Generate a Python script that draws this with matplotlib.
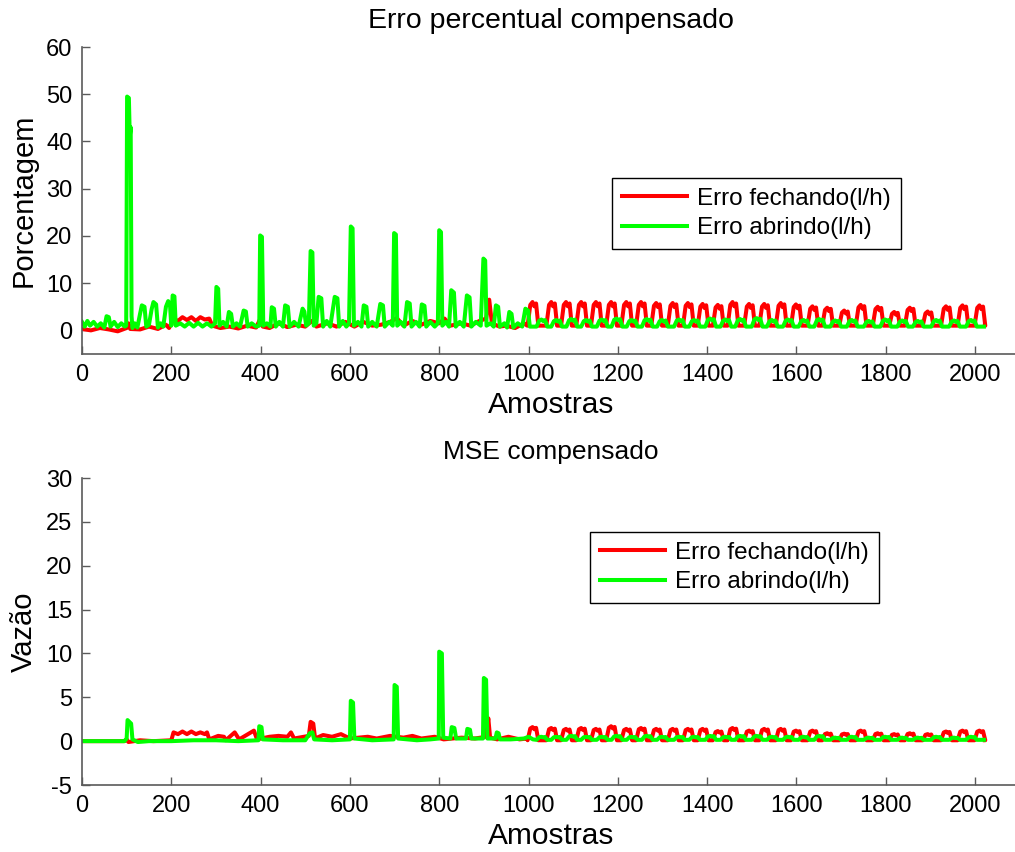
import numpy as np
import matplotlib.pyplot as plt

plt.rcParams['font.family'] = 'Liberation Sans'
plt.rcParams['font.style'] = 'normal'
plt.rcParams['axes.unicode_minus'] = False

RED = '#ff0000'
GREEN = '#00ff00'
AXC = '#5a5a5a'

labels = ['Erro fechando(l/h)', 'Erro abrindo(l/h)']
xticks = list(range(0, 2001, 200))

# ---- irregular part (samples 0..1000), vertices ----
top_red_pts = [
    (0, 0.3), (20, 0.0), (40, 0.5), (60, 0.2), (80, -0.2), (100, 0.5), (104, 1.5), (108, 0.3),
    (130, 0.2), (150, 0.8), (170, 0.3), (188, 1.2), (195, 0.5), (205, 2.5), (215, 2.0), (225, 2.8),
    (235, 2.2), (245, 2.8), (255, 2.0), (265, 2.8), (275, 2.3), (285, 2.5), (292, 1.0), (310, 0.5),
    (330, 0.8), (350, 0.4), (370, 1.0), (390, 0.6), (400, 2.6), (405, 0.8), (420, 0.5), (440, 1.5),
    (460, 0.7), (480, 1.2), (500, 0.8), (515, 2.0), (525, 0.8), (550, 1.5), (570, 0.8), (590, 1.8),
    (610, 0.8), (630, 1.8), (650, 1.0), (670, 1.2), (690, 1.8), (705, 2.6), (720, 1.0), (740, 2.0),
    (760, 1.2), (780, 2.0), (800, 1.5), (812, 2.5), (825, 1.0), (850, 1.5), (870, 1.0), (890, 2.0),
    (905, 2.5), (912, 6.5), (918, 1.5), (935, 0.8), (950, 1.0), (970, 0.5), (990, 1.5), (997, 1.0),
]
top_green_pts = [
    (0, 1.8), (6, 0.8), (12, 2.0), (18, 1.0), (26, 1.8), (34, 0.8), (42, 1.5), (50, 0.6), (55, 3.0),
    (60, 2.8), (64, 0.8), (72, 1.8), (80, 0.7), (88, 1.5), (96, 0.8), (99, 1.0), (101, 49.5),
    (105, 49.2), (107, 41.0), (109, 43.0), (111, 3.0), (113, 0.5), (118, 1.5), (124, 0.6), (130, 3.5),
    (134, 5.3), (140, 5.0), (144, 0.8), (150, 1.2), (156, 4.5), (160, 6.0), (166, 5.5), (170, 0.6),
    (176, 1.5), (182, 0.8), (188, 5.0), (193, 6.2), (197, 5.5), (200, 1.0), (203, 7.4), (207, 7.2),
    (210, 1.0), (220, 1.5), (230, 0.8), (240, 1.6), (250, 0.8), (260, 1.6), (270, 0.8), (280, 1.5),
    (290, 0.8), (298, 1.5), (301, 9.2), (305, 8.8), (308, 1.0), (316, 1.8), (324, 0.8), (329, 3.9),
    (334, 3.5), (338, 0.8), (346, 1.5), (354, 0.8), (362, 4.2), (367, 4.0), (371, 0.8), (380, 1.5),
    (390, 0.8), (397, 1.0), (399, 20.1), (403, 19.8), (406, 1.0), (414, 1.5), (422, 0.8), (425, 4.9),
    (430, 4.6), (434, 0.8), (442, 1.8), (450, 0.8), (455, 5.3), (461, 5.0), (465, 0.8), (475, 1.8),
    (485, 0.8), (494, 4.6), (498, 4.0), (502, 1.0), (508, 1.5), (512, 16.8), (516, 16.5), (519, 1.0),
    (525, 1.5), (530, 7.1), (536, 6.8), (540, 0.8), (548, 2.0), (556, 0.8), (566, 7.1), (572, 6.8),
    (576, 0.8), (584, 2.0), (592, 0.8), (598, 1.5), (602, 22.0), (606, 21.6), (609, 1.0), (618, 1.8),
    (626, 0.8), (631, 5.3), (637, 5.0), (641, 0.8), (650, 1.8), (660, 0.8), (668, 5.6), (674, 5.3),
    (678, 0.8), (688, 1.8), (696, 1.0), (699, 20.6), (703, 20.3), (706, 1.0), (714, 1.8), (722, 0.8),
    (728, 6.0), (734, 5.7), (738, 0.8), (748, 1.8), (756, 0.8), (761, 5.5), (767, 5.2), (771, 0.8),
    (780, 1.8), (790, 0.8), (797, 1.5), (800, 21.2), (804, 20.8), (807, 1.0), (815, 1.8), (822, 0.8),
    (827, 8.5), (833, 8.0), (837, 0.8), (846, 1.8), (855, 0.8), (862, 7.4), (868, 7.0), (872, 0.8),
    (882, 1.8), (893, 1.0), (899, 15.2), (903, 14.8), (906, 1.0), (915, 1.5), (922, 0.8), (927, 5.3),
    (932, 5.0), (936, 0.8), (946, 1.5), (952, 0.6), (957, 3.9), (962, 3.5), (966, 0.6), (976, 1.5),
    (986, 0.8), (993, 4.6), (999, 4.2), (1003, 0.8),
]
mse_red_pts = [
    (0, 0.0), (95, 0.0), (100, 0.2), (104, -0.1), (130, 0.1), (160, 0.0), (200, 0.1), (205, 1.0),
    (215, 0.8), (225, 1.1), (235, 0.8), (245, 1.1), (255, 0.8), (265, 1.0), (275, 0.8), (280, 1.0),
    (285, 0.2), (305, 0.6), (318, 0.5), (322, 0.1), (342, 1.0), (352, 0.2), (385, 1.2), (392, 0.2),
    (420, 0.5), (440, 0.6), (460, 0.5), (468, 1.0), (475, 0.3), (508, 0.6), (512, 2.2), (518, 2.0),
    (522, 0.3), (540, 0.7), (560, 0.5), (580, 0.8), (600, 0.3), (640, 0.5), (660, 0.3), (690, 0.6),
    (720, 0.4), (740, 0.6), (760, 0.3), (790, 0.5), (810, 0.2), (850, 0.4), (880, 0.3), (905, 0.5),
    (910, 2.6), (914, 0.4), (930, 0.2), (955, 0.5), (980, 0.2), (997, 0.3),
]
mse_green_pts = [
    (0, 0.0), (95, 0.0), (100, 0.3), (102, 2.4), (106, 2.2), (110, 2.0), (113, 0.2), (125, -0.1),
    (150, 0.0), (200, 0.0), (250, 0.1), (300, 0.1), (350, 0.0), (395, 0.1), (397, 1.7), (402, 1.6),
    (405, 0.2), (450, 0.1), (500, 0.1), (510, 0.9), (516, 1.0), (520, 0.2), (560, 0.1), (600, 0.2),
    (602, 4.6), (607, 4.4), (610, 0.3), (650, 0.1), (698, 0.2), (700, 6.4), (705, 6.2), (708, 0.3),
    (750, 0.1), (780, 0.2), (799, 0.3), (800, 10.2), (806, 10.0), (809, 0.4), (825, 0.3), (828, 1.6),
    (834, 1.5), (838, 0.3), (860, 0.3), (863, 1.4), (869, 1.3), (872, 0.3), (898, 0.3), (900, 7.2),
    (905, 7.0), (908, 0.3), (926, 0.3), (929, 1.0), (933, 0.9), (936, 0.2), (960, 0.2), (990, 0.3),
    (1000, 0.5), (1010, 0.2),
]

# ---- periodic part (samples 1000..2020): bump centres and peak heights ----
red_bump_pos = [1010, 1052, 1085, 1119, 1152, 1186, 1220, 1253, 1287, 1324, 1358, 1391, 1425,
                1458, 1495, 1529, 1566, 1600, 1637, 1670, 1708, 1745, 1783, 1820, 1855, 1895,
                1936, 1973, 2011]
top_red_bump = [6.0, 6.0, 6.0, 6.0, 6.0, 6.0, 6.0, 6.0, 5.8, 5.8, 5.8, 5.6, 5.4,
                6.0, 5.6, 5.6, 5.8, 5.5, 5.1, 4.8, 4.2, 5.4, 5.0, 3.9, 4.8, 4.0,
                5.1, 5.3, 5.3]
mse_red_bump = [1.6, 1.5, 1.4, 1.5, 1.4, 1.7, 1.4, 1.5, 1.4, 1.4, 1.4, 1.4, 1.15,
                1.5, 1.2, 1.4, 1.4, 1.2, 1.2, 0.9, 0.85, 1.2, 0.9, 0.8, 0.9, 0.8,
                1.1, 1.2, 1.2]
green_bump_pos = [1030, 1063, 1097, 1130, 1165, 1198, 1232, 1266, 1300, 1338, 1372, 1408, 1442,
                  1475, 1512, 1546, 1582, 1617, 1652, 1688, 1725, 1763, 1800, 1838, 1873, 1914,
                  1954, 1992]
top_green_bump = [2.3, 2.2, 2.4, 2.2, 2.3, 2.5, 2.2, 2.4, 2.2, 2.3, 2.2, 2.5, 2.3,
                  2.4, 2.6, 2.2, 2.3, 2.2, 2.4, 2.1, 2.2, 2.0, 2.3, 2.1, 2.0, 2.2,
                  2.1, 2.2]
mse_green_bump = [0.5, 0.5, 0.6, 0.5, 0.5, 0.6, 0.5, 0.6, 0.5, 0.5, 0.5, 0.6, 0.5,
                  0.6, 0.6, 0.5, 0.5, 0.5, 0.6, 0.4, 0.5, 0.4, 0.5, 0.4, 0.4, 0.5,
                  0.4, 0.5]


def series(pts, pos, peaks, base, last):
    xs = [p[0] for p in pts]
    ys = [p[1] for p in pts]
    for c, h in zip(pos, peaks):
        xs += [c - 12, c - 6, c - 1, c + 3, c + 7, c + 12]
        ys += [base, 0.9 * h, h, 0.85 * h, 0.95 * h, base]
    xs.append(last)
    ys.append(base)
    return np.array(xs), np.array(ys)


fig = plt.figure(figsize=(10.15, 8.52), dpi=100)

W = 2100 * (975 - 82) / 2000 / 1015
ax1 = fig.add_axes([82 / 1015, 1 - 354 / 852, W, 307 / 852])
ax2 = fig.add_axes([82 / 1015, 1 - 785 / 852, W, 307 / 852])

panels = [
    (ax1, top_red_pts, top_red_bump, 1.0, top_green_pts, top_green_bump, 0.8,
     'Erro percentual compensado', 20.5, 'Porcentagem', (-5, 60), list(range(0, 61, 10)), (612, 178)),
    (ax2, mse_red_pts, mse_red_bump, 0.1, mse_green_pts, mse_green_bump, 0.15,
     'MSE compensado', 19, 'Vazão', (-5, 30), list(range(-5, 31, 5)), (590, 532)),
]

for ax, rp, rb, rbase, gp, gb, gbase, title, tsize, ylabel, ylim, yt, leg in panels:
    xr, yr = series(rp, red_bump_pos, rb, rbase, 2022)
    xg, yg = series(gp, green_bump_pos, gb, gbase, 2020)
    ax.plot(xr, yr, color=RED, lw=2.9, label=labels[0])
    ax.plot(xg, yg, color=GREEN, lw=2.9, label=labels[1])
    ax.set_xlim(0, 2100)
    ax.set_ylim(*ylim)
    ax.set_xticks(xticks)
    ax.set_yticks(yt)
    for s in ['top', 'right']:
        ax.spines[s].set_visible(False)
    for s in ['left', 'bottom']:
        ax.spines[s].set_color(AXC)
        ax.spines[s].set_linewidth(1.2)
    ax.tick_params(direction='in', length=6, width=1, color=AXC, labelsize=17,
                   labelcolor='black', pad=7)
    ax.text(0.5, 1.085, title, transform=ax.transAxes, ha='center', va='center', fontsize=tsize)
    ax.set_xlabel('Amostras', fontsize=21.5, labelpad=4)
    ax.set_ylabel(ylabel, fontsize=21, fontstyle='normal')
    ax.yaxis.set_label_coords(-0.047, 0.5)
    ax.legend(loc='upper left', bbox_to_anchor=(leg[0] / 1015, 1 - leg[1] / 852),
              bbox_transform=fig.transFigure, fontsize=17.5, frameon=True, fancybox=False,
              edgecolor='black', framealpha=1, handlelength=2.7, handletextpad=0.4,
              borderpad=0.4, labelspacing=0.3, borderaxespad=0)
    ax.get_legend().get_frame().set_linewidth(1.0)

fig.savefig('out.png', dpi=100)
